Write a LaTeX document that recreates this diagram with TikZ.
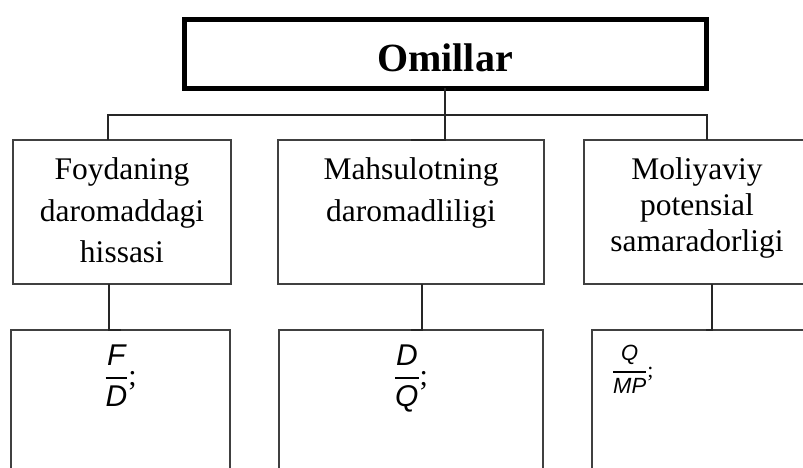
\documentclass[tikz,border=0pt]{standalone}
\usepackage{fix-cm}
\usepackage{amsmath}
\usepackage{fontspec}
\setmainfont{Liberation Serif}
\setsansfont{Liberation Sans}
\usetikzlibrary{positioning}

\newcommand{\fvar}[1]{\mbox{\sffamily\itshape #1}}
\newcommand{\ratio}[2]{\genfrac{}{}{2pt}{0}{\fvar{#1}}{\fvar{#2}}}

\begin{document}
\begin{tikzpicture}[
    x=1pt, y=-1pt,
    every node/.style={inner sep=0pt, outer sep=0pt},
    mainbox/.style={draw=black, line width=5pt, minimum width=522pt, minimum height=69pt},
    catbox/.style={draw=black!75, line width=2.5pt, minimum height=144pt},
    formbox/.style={draw=black!75, line width=2.5pt, minimum height=200pt, anchor=north},
    cattext/.style={align=center, font=\fontsize{31.5}{41.5}\selectfont},
    formtext/.style={font=\fontsize{30}{36}\selectfont},
    formsmall/.style={font=\fontsize{22}{26}\selectfont},
    conn/.style={draw=black!85, line width=2pt},
]

% Page frame
\useasboundingbox (0,0) rectangle (803,468);
\clip (0,0) rectangle (803,468);

% === Top box ===
\node[mainbox, text height=35pt] (omillar) at (445,54) {\fontsize{40}{48}\selectfont\bfseries Omillar};

% === Second row: factors ===
\node[catbox, minimum width=218pt] (foyda) at (122,212) {};
\node[cattext, below=18pt of foyda.north] (foydaT) {Foydaning\\daromaddagi\\hissasi};

\node[catbox, minimum width=266pt] (mahsulot) at (411,212) {};
\node[cattext, below=18pt of mahsulot.north] (mahsulotT) {Mahsulotning\\daromadliligi};

\node[catbox, minimum width=226pt] (moliya) at (697,212) {};
\node[cattext, font=\fontsize{31.5}{36}\selectfont, below=18pt of moliya.north] (moliyaT) {Moliyaviy\\potensial\\samaradorligi};

% === Third row: formulas (cut off by the page) ===
\node[formbox, minimum width=219pt] (fFD) at (120.5,330) {};
\node[formtext, below=15pt of fFD.north] (fFDT) {$\ratio{F}{D}$;};

\node[formbox, minimum width=264pt] (fDQ) at (411,330) {};
\node[formtext, below=15pt of fDQ.north] (fDQT) {$\ratio{D}{Q}$;};

\node[formbox, minimum width=228pt] (fQMP) at (706,330) {};
\node[formsmall, below right=15pt and 20pt of fQMP.north west] (fQMPT) {$\ratio{Q}{MP}$;};

% === Connectors ===
\coordinate (bus) at (0,115);
\coordinate (lefttap) at ([xshift=-14pt]foyda.north);
\coordinate (righttap) at ([xshift=10pt]moliya.north);
\draw[conn] (omillar.south) |- (mahsulot.north);
\draw[conn] (lefttap) |- (bus -| righttap) -- (righttap);

\draw[conn] ([xshift=-13pt]foyda.south) |- (fFD.north);
\draw[conn] ([xshift=11pt]mahsulot.south) |- (fDQ.north);
\draw[conn] ([xshift=15pt]moliya.south) |- (fQMP.north);

\end{tikzpicture}
\end{document}
